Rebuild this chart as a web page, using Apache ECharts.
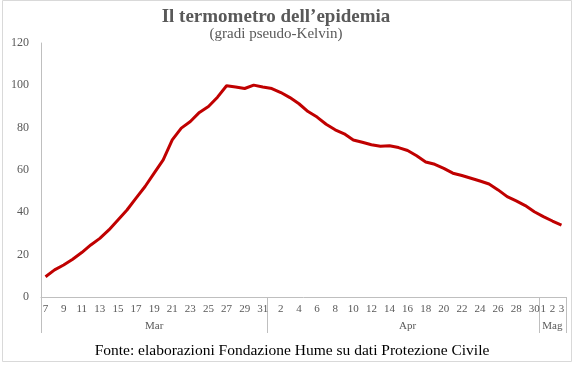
<!DOCTYPE html>
<html><head><meta charset="utf-8">
<script src="https://cdn.jsdelivr.net/npm/echarts@6/dist/echarts.min.js"></script>
<style>html,body{margin:0;padding:0;background:#fff}#c{width:574px;height:371px}</style>
</head><body><div id="c"></div>
<script>
const dayLabels = ['7','8','9','10','11','12','13','14','15','16','17','18','19','20','21','22','23','24','25','26','27','28','29','30','31',
  '1','2','3','4','5','6','7','8','9','10','11','12','13','14','15','16','17','18','19','20','21','22','23','24','25','26','27','28','29','30',
  '1','2','3'];
const monthLabels = ['Mar','Apr','Mag'];
const monthStartIndex = [0, 25, 55];
const monthLabelIndex = [12, 40, 56];
const values = [9.6,12.8,15.1,17.8,21.0,24.6,27.7,31.7,36.4,41.1,46.7,52.2,58.5,64.8,74.2,79.8,82.9,87.2,90.0,94.4,99.8,99.2,98.5,100.1,99.2,
  98.5,96.6,94.2,91.3,87.6,85.0,81.6,79.0,77.1,74.2,73.1,71.9,71.2,71.5,70.6,69.2,66.7,63.8,62.7,60.8,58.5,57.4,56.1,54.8,53.4,50.6,47.4,45.4,43.2,40.3,
  38.0,35.9,34.0];
const yTicks = {min: 0, max: 120, step: 20};

const serif = '"Liberation Serif", "DejaVu Serif", serif';
const monthRow = dayLabels.map((d, i) => {
  const k = monthLabelIndex.indexOf(i);
  return k >= 0 ? monthLabels[k] : '';
});

const chart = echarts.init(document.getElementById('c'), null, {renderer: 'canvas'});
chart.setOption({
  animation: false,
  backgroundColor: '#fff',
  title: [
    {text: "Il termometro dell\u2019epidemia", left: 271, top: 3, textAlign: 'center',
     textStyle: {fontFamily: serif, fontSize: 19, fontWeight: 'bold', color: '#595959'}},
    {text: '(gradi pseudo-Kelvin)', left: 271, top: 22, textAlign: 'center',
     textStyle: {fontFamily: serif, fontSize: 15, fontWeight: 'normal', color: '#595959'}},
    {text: 'Fonte: elaborazioni Fondazione Hume su dati Protezione Civile', left: 287, top: 338, textAlign: 'center',
     textStyle: {fontFamily: serif, fontSize: 15.5, fontWeight: 'normal', color: '#000'}}
  ],
  graphic: [{type: 'rect', shape: {x: 2.5, y: 0.5, width: 569, height: 361}, style: {fill: null, stroke: '#d9d9d9', lineWidth: 1}, z: -1}],
  grid: {left: 41, right: 8, top: 43, bottom: 74, containLabel: false},
  xAxis: [
    {type: 'category', data: dayLabels, boundaryGap: true,
     axisLine: {show: true, lineStyle: {color: '#bfbfbf', width: 1}},
     axisTick: {show: false},
     axisLabel: {interval: (i) => i <= 54 ? i % 2 === 0 : true, margin: 7, fontFamily: serif, fontSize: 11, color: '#595959'},
     splitLine: {show: false}},
    {type: 'category', data: monthRow, boundaryGap: true, position: 'bottom', offset: 0,
     axisLine: {show: false},
     axisTick: {show: true, length: 36, interval: (i) => monthStartIndex.indexOf(i) >= 0, lineStyle: {color: '#bfbfbf', width: 1}},
     axisLabel: {interval: 0, margin: 24, fontFamily: serif, fontSize: 11, color: '#595959'},
     splitLine: {show: false}},
  ],
  yAxis: {type: 'value', min: yTicks.min, max: yTicks.max, interval: yTicks.step,
    axisLine: {show: true, lineStyle: {color: '#bfbfbf', width: 1}},
    axisTick: {show: false}, splitLine: {show: false},
    axisLabel: {margin: 12, fontFamily: serif, fontSize: 12, color: '#595959'}},
  series: [{type: 'line', data: values, xAxisIndex: 0, showSymbol: false, symbol: 'none',
    lineStyle: {color: '#c00000', width: 3}, itemStyle: {color: '#c00000'}}]
});
</script></body></html>
